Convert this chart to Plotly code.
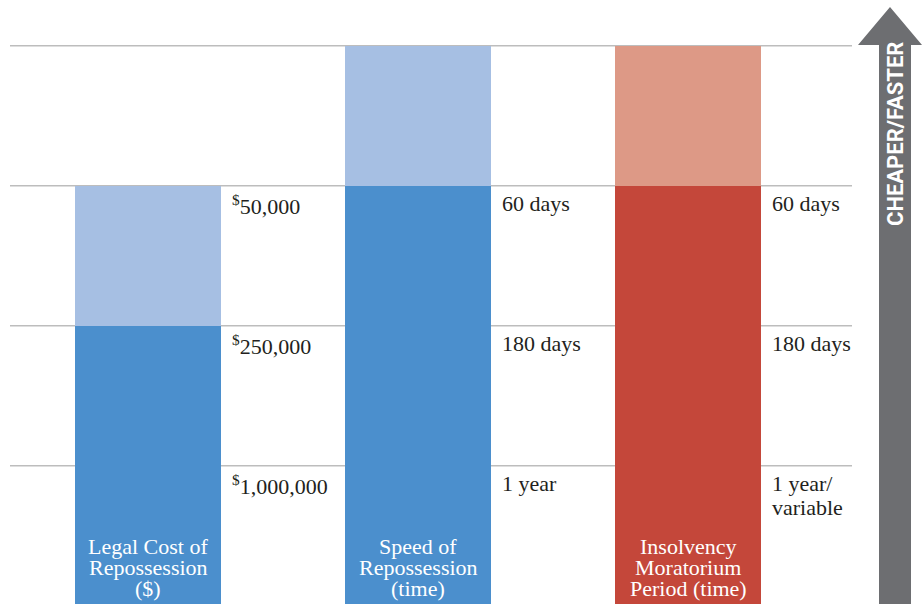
import plotly.graph_objects as go

# Chart values (levels on the 1..4 grid, bottom = 0)
categories = ["Legal Cost of<br>Repossession<br>($)",
              "Speed of<br>Repossession<br>(time)",
              "Insolvency<br>Moratorium<br>Period (time)"]
base_level = [2, 3, 3]
extra_level = [1, 1, 1]
dark_colors = ["#4b8fcd", "#4b8fcd", "#c4473a"]
light_colors = ["#a6bfe3", "#a6bfe3", "#dd9986"]
level_labels = [
    ["<sup>$</sup>1,000,000", "<sup>$</sup>250,000", "<sup>$</sup>50,000"],
    ["1 year", "180 days", "60 days"],
    ["1 year/<br>variable", "180 days", "60 days"],
]
arrow_text = "CHEAPER/FASTER"

W, H = 922, 604
PX_X = 270.0   # px per category step
PX_Y = 140.0   # px per level
X0 = 148.0     # px centre of first bar
Y_LOW = 0.012  # bottom of the view, in levels
BAR_W = 146 / PX_X
SERIF = "Liberation Serif, DejaVu Serif, serif"

xs = list(range(len(categories)))

fig = go.Figure()
fig.add_trace(go.Bar(x=xs, y=base_level, width=BAR_W, marker=dict(color=dark_colors, line_width=0),
                     hoverinfo="skip"))
fig.add_trace(go.Bar(x=xs, y=extra_level, width=BAR_W, marker=dict(color=light_colors, line_width=0),
                     hoverinfo="skip"))

# grid lines
for lvl in range(1, 5):
    fig.add_shape(type="line", xref="x", yref="y", layer="below",
                  x0=(10 - X0) / PX_X, x1=(852 - X0) / PX_X, y0=lvl, y1=lvl,
                  line=dict(color="#bdbdbd", width=1.5))

# right-side level labels (multi-line ones split for tighter leading)
for i, labels in enumerate(level_labels):
    for lvl, txt in enumerate(labels, start=1):
        for k, part in enumerate(txt.split("<br>")):
            fig.add_annotation(x=i + BAR_W / 2, y=lvl, xref="x", yref="y", text=part,
                               showarrow=False, xanchor="left", yanchor="top", align="left",
                               xshift=9, yshift=-3 - 24 * k,
                               font=dict(family=SERIF, size=22, color="#231f20"))

# category names inside bars, one line at a time for tight leading
for i, name in enumerate(categories):
    lines = name.split("<br>")
    for j, ln in enumerate(lines):
        py = 588 - (len(lines) - 1 - j) * 21
        fig.add_annotation(x=i, y=Y_LOW + (H - py) / PX_Y, xref="x", yref="y", text=ln,
                           showarrow=False, xanchor="center", yanchor="middle",
                           font=dict(family=SERIF, size=22, color="white"))

# arrow on the right
def P(px, py):
    return f"{px / W},{1 - py / H}"

path = ("M " + P(879, 604) + " L " + P(879, 45) + " L " + P(858, 45) + " L " + P(890, 7)
        + " L " + P(922, 45) + " L " + P(911, 45) + " L " + P(911, 604) + " Z")
fig.add_shape(type="path", xref="paper", yref="paper", path=path,
              fillcolor="#6d6e71", line=dict(width=0))
fig.add_annotation(x=895 / W, y=1 - 134 / H, xref="paper", yref="paper", text=f"<b>{arrow_text}</b>",
                   showarrow=False, textangle=-90, xanchor="center", yanchor="middle",
                   font=dict(family="Liberation Sans Narrow, Roboto, sans-serif", size=22, color="white"))

fig.update_layout(
    width=W, height=H, barmode="stack", showlegend=False,
    margin=dict(l=0, r=0, t=0, b=0),
    paper_bgcolor="white", plot_bgcolor="white", bargap=0,
    xaxis=dict(range=[-X0 / PX_X, (W - X0) / PX_X], visible=False, fixedrange=True),
    yaxis=dict(range=[Y_LOW, Y_LOW + H / PX_Y], visible=False, fixedrange=True),
)

fig.write_html("out.html", config={"displayModeBar": False},
               post_script="document.body.style.margin='0';document.body.style.overflow='hidden';")
